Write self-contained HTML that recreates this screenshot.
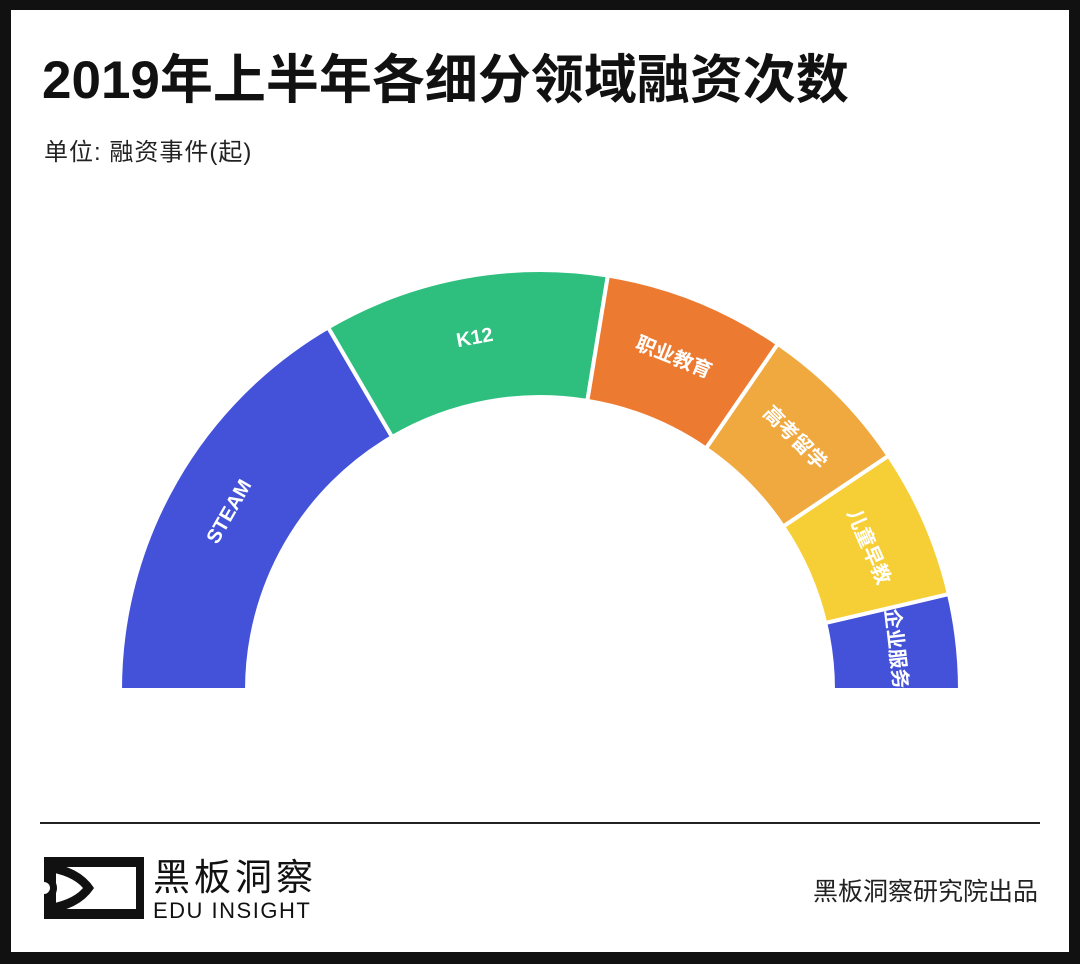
<!DOCTYPE html>
<html><head><meta charset="utf-8">
<style>
body{margin:0;background:#111;}
#c{position:absolute;left:0;top:0;width:1080px;height:964px;background:#111;overflow:hidden;font-family:"Liberation Sans","Noto Sans CJK SC",sans-serif;}
#w{position:absolute;left:11px;top:10px;width:1058px;height:942px;background:#fff;}
.t{position:absolute;left:42px;top:38px;font-size:53px;font-weight:bold;color:#111;white-space:nowrap;}
.s{position:absolute;left:44px;top:132px;font-size:24px;color:#222;white-space:nowrap;letter-spacing:1px;}
.f{position:absolute;right:42px;top:872px;font-size:25px;color:#222;white-space:nowrap;}
</style></head><body>
<div id="c"><div id="w"></div>
<div class="t">2019年上半年各细分领域融资次数</div>
<div class="s">单位: 融资事件(起)</div>
<svg id="g" width="1080" height="964" style="position:absolute;left:0;top:0">
<line x1="40" y1="823" x2="1040" y2="823" stroke="#222" stroke-width="2"/>
<g>
<rect x="44" y="857" width="100" height="62" fill="#111"/>
<rect x="56" y="867" width="80" height="42" fill="#fff"/>
<path d="M44,862 Q80,866 94,888 Q80,910 44,914 L44,905 Q72,901 83,888 Q72,875 44,871Z" fill="#111"/>
<path d="M44,875 A13,13 0 0 1 44,901Z" fill="#111"/>
<path d="M44,882 A6,6 0 0 1 44,894Z" fill="#fff"/>
<text x="153" y="890" font-size="37" fill="#111" font-family="Liberation Sans,Noto Sans CJK SC,sans-serif" letter-spacing="4">黑板洞察</text>
<text x="153" y="918" font-size="22" fill="#111" font-family="Liberation Sans,sans-serif" letter-spacing="1.5">EDU INSIGHT</text>
</g>
</svg>
<div class="f">黑板洞察研究院出品</div>
</div>
<script>
var cx=540,cy=690,R=420,r=293;
var segs=[[0,59.7,"#4352d8","STEAM"],[59.7,99.3,"#2ebf7f","K12"],[99.3,124.5,"#ec7b31","职业教育"],[124.5,146.1,"#f0a93f","高考留学"],[146.1,166.8,"#f6cf37","儿童早教"],[166.8,180,"#4352d8","企业服务"]];
var g=document.getElementById("g"),h="";
function P(a,rad){var t=(180-a)*Math.PI/180;return [cx+rad*Math.cos(t),cy-rad*Math.sin(t)];}
segs.forEach(function(s){
var a=P(s[0],R),b=P(s[1],R),c=P(s[1],r),d=P(s[0],r);
h+='<path d="M'+a+' A'+R+','+R+' 0 0 1 '+b+' L'+c+' A'+r+','+r+' 0 0 0 '+d+'Z" fill="'+s[2]+'" stroke="#fff" stroke-width="4"/>';
var m=(s[0]+s[1])/2,p=P(m,358);
h+='<text x="'+p[0]+'" y="'+p[1]+'" font-size="20" font-weight="bold" fill="#fff" text-anchor="middle" dominant-baseline="central" font-family="Liberation Sans,Noto Sans CJK SC,sans-serif" transform="rotate('+(m-90)+' '+p[0]+' '+p[1]+')">'+s[3]+'</text>';
});
g.insertAdjacentHTML("beforeend",h);
</script>
</body></html>
